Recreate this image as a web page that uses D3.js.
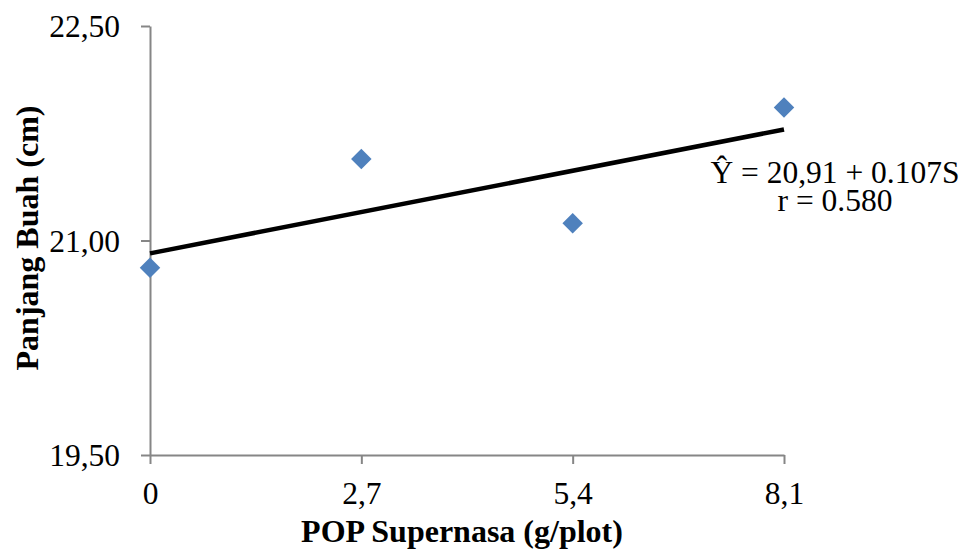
<!DOCTYPE html>
<html><head><meta charset="utf-8">
<script src="https://cdn.jsdelivr.net/npm/d3@7"></script>
<style>body{margin:0;background:#fff}svg{display:block}</style>
</head><body>
<script>
const xValues = [0, 2.7, 5.4, 8.1];
const yValues = [20.81, 21.57, 21.12, 21.93];
const xTickLabels = ["0", "2,7", "5,4", "8,1"];
const yTicks = [19.5, 21.0, 22.5];
const yTickLabels = ["19,50", "21,00", "22,50"];
const intercept = 20.91, slope = 0.107;
const eqLines = ["Ŷ = 20,91 + 0.107S", "r = 0.580"];

const W = 971, H = 556;
const svg = d3.select("body").append("svg").attr("width", W).attr("height", H);
const x = d3.scaleLinear().domain([0, 8.1]).range([150, 784]);
const y = d3.scaleLinear().domain([19.5, 22.5]).range([455, 26]);
const font = "'Liberation Serif','Times New Roman',serif";
const axisColor = "#868686";

const xAxis = svg.append("g").attr("transform", "translate(0,455)")
  .call(d3.axisBottom(x).tickValues(xValues).tickSize(9).tickSizeOuter(0)
    .tickFormat((d, i) => xTickLabels[i]));
const yAxis = svg.append("g").attr("transform", "translate(150,0)")
  .call(d3.axisLeft(y).tickValues(yTicks).tickSize(9).tickSizeOuter(0)
    .tickFormat((d, i) => yTickLabels[i]));
[xAxis, yAxis].forEach(g => {
  g.select(".domain").attr("stroke", axisColor).attr("stroke-width", 2);
  g.selectAll(".tick line").attr("stroke", axisColor).attr("stroke-width", 2);
  g.selectAll("text").attr("fill", "#000").style("font-family", font).style("font-size", "31.5px");
});
xAxis.selectAll("text").attr("y", 27).attr("dy", "0.71em");
yAxis.selectAll("text").attr("x", -30).attr("dy", "0.34em");

// trend line
svg.append("line")
  .attr("x1", x(0)).attr("y1", y(intercept))
  .attr("x2", x(8.1)).attr("y2", y(intercept + slope * 8.1))
  .attr("stroke", "#000").attr("stroke-width", 4.5);

// points
svg.selectAll("path.pt").data(xValues).enter().append("path")
  .attr("class", "pt")
  .attr("d", d3.symbol().type(d3.symbolSquare).size(210))
  .attr("transform", (d, i) => `translate(${x(d)},${y(yValues[i])}) rotate(45)`)
  .attr("fill", "#4F81BD");

// equation
const eq = svg.append("text").attr("text-anchor", "middle")
  .style("font-family", font).style("font-size", "31.5px");
eq.append("tspan").attr("x", 835).attr("y", 183).text(eqLines[0]);
eq.append("tspan").attr("x", 835).attr("y", 211).text(eqLines[1]);

// axis titles
svg.append("text").attr("x", 462).attr("y", 542).attr("text-anchor", "middle")
  .style("font-family", font).style("font-size", "32px").style("font-weight", "bold")
  .text("POP Supernasa (g/plot)");
svg.append("text").attr("transform", "translate(38,238) rotate(-90)").attr("text-anchor", "middle")
  .style("font-family", font).style("font-size", "32px").style("font-weight", "bold")
  .text("Panjang Buah (cm)");
</script>
</body></html>
